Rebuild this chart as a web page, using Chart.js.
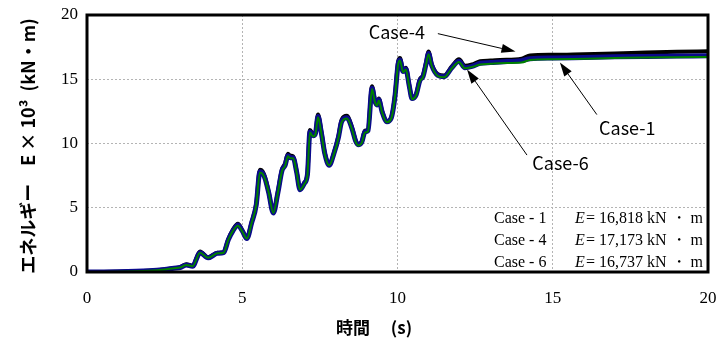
<!DOCTYPE html>
<html>
<head>
<meta charset="utf-8">
<script src="https://cdn.jsdelivr.net/npm/chart.js@4/dist/chart.umd.min.js"></script>
<style>
  html, body { margin: 0; padding: 0; background: #fff; }
  #wrap { width: 719px; height: 343px; }
</style>
</head>
<body>
<div id="wrap"><canvas id="energy"></canvas></div>
<script>
"use strict";

// time (s)
const timeS = [0, 1, 2, 2.5, 2.8, 3.0, 3.2, 3.4, 3.64, 3.9, 4.2, 4.4, 4.55, 4.7, 4.86, 5.0, 5.15, 5.3, 5.45, 5.57,
  5.65, 5.73, 5.85, 6.0, 6.15, 6.28, 6.38, 6.47, 6.55, 6.64, 6.75, 6.86, 7.0, 7.1, 7.18, 7.28, 7.36, 7.44, 7.55, 7.66,
  7.8, 7.95, 8.1, 8.2, 8.37, 8.53, 8.65, 8.73, 8.85, 8.95, 9.05, 9.18, 9.27, 9.34, 9.4, 9.5, 9.66, 9.8, 9.92, 10.02,
  10.08, 10.18, 10.27, 10.37, 10.47, 10.6, 10.72, 10.82, 10.92, 11.0, 11.1, 11.3, 11.5, 11.75, 11.98, 12.17, 12.4, 12.66, 13.0, 13.3,
  14.0, 14.27, 15, 16, 17, 18, 19, 20];

// energy E x 10^3 (kN・m)
const case1 = [0, 0.02, 0.1, 0.2, 0.3, 0.35, 0.55, 0.45, 1.5, 1.1, 1.45, 1.5, 2.5, 3.2, 3.65, 3.2, 2.6, 3.8, 5.2, 7.8,
  7.7, 7.3, 6.2, 4.6, 6.2, 7.9, 8.3, 9.05, 8.9, 8.9, 7.8, 6.4, 6.9, 7.6, 10.9, 10.6, 10.8, 12.1, 10.8, 9.2,
  8.3, 9.2, 10.5, 11.7, 12.0, 11.2, 10.2, 9.9, 10.1, 10.9, 11.0, 14.3, 13.3, 13.0, 13.4, 12.5, 11.7, 12.0, 13.7, 16.2,
  16.5, 15.6, 15.8, 14.6, 13.5, 13.8, 14.9, 15.2, 16.2, 17.0, 16.1, 15.3, 15.2, 15.9, 16.4, 15.9, 16.0, 16.25, 16.3, 16.35,
  16.45, 16.6, 16.65, 16.7, 16.75, 16.78, 16.8, 16.82];

const case4 = [0, 0.02, 0.1, 0.2, 0.3, 0.38, 0.6, 0.5, 1.6, 1.15, 1.5, 1.55, 2.55, 3.3, 3.75, 3.25, 2.65, 3.85, 5.3, 7.95,
  7.85, 7.4, 6.25, 4.65, 6.3, 8.0, 8.45, 9.2, 9.05, 9.0, 7.85, 6.45, 6.95, 7.7, 11.05, 10.75, 10.9, 12.25, 10.9, 9.25,
  8.35, 9.25, 10.6, 11.85, 12.15, 11.3, 10.25, 9.95, 10.15, 11.0, 11.1, 14.45, 13.4, 13.1, 13.5, 12.55, 11.75, 12.05, 13.8, 16.35,
  16.65, 15.7, 15.9, 14.65, 13.55, 13.85, 15.0, 15.3, 16.3, 17.15, 16.2, 15.4, 15.3, 16.0, 16.55, 16.05, 16.15, 16.4, 16.45, 16.5,
  16.6, 16.85, 16.9, 16.95, 17.0, 17.08, 17.14, 17.17];

const case6 = [0, 0.02, 0.1, 0.2, 0.3, 0.35, 0.55, 0.45, 1.5, 1.1, 1.45, 1.5, 2.5, 3.2, 3.6, 3.15, 2.6, 3.8, 5.2, 7.75,
  7.65, 7.25, 6.2, 4.6, 6.2, 7.85, 8.25, 9.0, 8.85, 8.85, 7.75, 6.4, 6.85, 7.55, 10.85, 10.55, 10.75, 12.05, 10.75, 9.15,
  8.3, 9.15, 10.45, 11.65, 11.95, 11.15, 10.15, 9.85, 10.05, 10.85, 10.95, 14.25, 13.25, 12.95, 13.35, 12.45, 11.65, 11.95, 13.65, 16.15,
  16.45, 15.55, 15.75, 14.55, 13.45, 13.75, 14.85, 15.15, 16.15, 16.95, 16.05, 15.25, 15.15, 15.85, 16.35, 15.85, 15.95, 16.15, 16.2, 16.25,
  16.3, 16.5, 16.55, 16.6, 16.65, 16.7, 16.72, 16.74];

const xTicks = [0, 5, 10, 15, 20];
const yTicks = [0, 5, 10, 15, 20];

// legend box rows
const caseNames = ['Case - 1', 'Case - 4', 'Case - 6'];
const caseEnergy = ['16,818', '17,173', '16,737'];

// callouts: label, label position, arrow start, arrow tip (data units)
const callouts = [
  { text: 'Case-4', at: [9.98, 18.68], from: [11.3, 18.55], to: [13.8, 17.15] },
  { text: 'Case-1', at: [17.4, 11.2], from: [16.42, 12.25], to: [15.23, 16.3] },
  { text: 'Case-6', at: [15.25, 8.5], from: [14.17, 9.1], to: [12.24, 15.75] }
];

const pts = arr => timeS.map((t, i) => ({ x: t, y: arr[i] }));

const serif = '"Liberation Serif", "Times New Roman", serif';
const gothic = '"Noto Sans CJK JP", sans-serif';

const overlay = {
  id: 'overlay',
  afterDraw(chart) {
    const c = chart.ctx, a = chart.chartArea;
    const sx = chart.scales.x, sy = chart.scales.y;
    c.save();

    // frame
    c.strokeStyle = '#000';
    c.lineWidth = 3;
    c.strokeRect(a.left, a.top, a.right - a.left, a.bottom - a.top);

    // callouts
    c.fillStyle = '#000';
    c.lineWidth = 1;
    c.font = '18px ' + gothic;
    c.textAlign = 'center';
    c.textBaseline = 'middle';
    callouts.forEach(o => {
      c.fillText(o.text, sx.getPixelForValue(o.at[0]), sy.getPixelForValue(o.at[1]));
      const x1 = sx.getPixelForValue(o.from[0]), y1 = sy.getPixelForValue(o.from[1]);
      const x2 = sx.getPixelForValue(o.to[0]), y2 = sy.getPixelForValue(o.to[1]);
      const ang = Math.atan2(y2 - y1, x2 - x1);
      const hl = 14, hw = 4.5;
      c.beginPath();
      c.moveTo(x1, y1);
      c.lineTo(x2 - hl * Math.cos(ang), y2 - hl * Math.sin(ang));
      c.stroke();
      c.beginPath();
      c.moveTo(x2, y2);
      c.lineTo(x2 - hl * Math.cos(ang) + hw * Math.sin(ang), y2 - hl * Math.sin(ang) - hw * Math.cos(ang));
      c.lineTo(x2 - hl * Math.cos(ang) - hw * Math.sin(ang), y2 - hl * Math.sin(ang) + hw * Math.cos(ang));
      c.closePath();
      c.fill();
    });

    // result table
    c.textAlign = 'left';
    c.textBaseline = 'alphabetic';
    caseNames.forEach((name, i) => {
      const y = 223 + i * 22;
      c.font = '16px ' + serif;
      c.fillText(name, 494, y);
      c.font = 'italic 16px ' + serif;
      c.fillText('E', 575, y);
      c.font = '16px ' + serif;
      c.fillText('= ' + caseEnergy[i] + ' kN ・ m', 586, y);
    });

    // axis titles
    c.font = 'bold 17px ' + gothic;
    c.textAlign = 'center';
    c.textBaseline = 'middle';
    c.fillText('時間　 (s)', 374, 328);

    c.font = 'bold 18px ' + gothic;
    c.translate(28, 146);
    c.rotate(-Math.PI / 2);
    c.fillText('エネルギー　E × 10³  (kN・m)', 0, 0);
    c.restore();
  }
};

const gridColor = ctx => (ctx.tick.value === 0 || ctx.tick.value === 20) ? 'rgba(0,0,0,0)' : '#b4b4b4';

new Chart(document.getElementById('energy'), {
  type: 'line',
  data: {
    datasets: [
      { label: 'Case-6', data: pts(case6), borderColor: '#008000', borderWidth: 2, order: 0 },
      { label: 'Case-1', data: pts(case1), borderColor: '#0a0a8c', borderWidth: 5, order: 1 },
      { label: 'Case-4', data: pts(case4), borderColor: '#000000', borderWidth: 4, order: 2 }
    ]
  },
  options: {
    responsive: true,
    maintainAspectRatio: false,
    animation: false,
    events: [],
    elements: {
      point: { radius: 0 },
      line: { tension: 0.35, cubicInterpolationMode: 'monotone', fill: false }
    },
    layout: { padding: { left: 0, top: 15, right: 11, bottom: 0 } },
    plugins: { legend: { display: false }, tooltip: { enabled: false } },
    scales: {
      x: {
        type: 'linear', min: 0, max: 20,
        afterBuildTicks: s => { s.ticks = xTicks.map(v => ({ value: v })); },
        afterFit: s => { s.height = 71; s.paddingLeft = 0; s.paddingRight = 0; },
        grid: { drawTicks: false, color: gridColor, lineWidth: 1 },
        border: { display: false, dash: [2, 2] },
        ticks: { padding: 16, color: '#000', font: { family: serif, size: 17 } }
      },
      y: {
        min: 0, max: 20,
        afterBuildTicks: s => { s.ticks = yTicks.map(v => ({ value: v })); },
        afterFit: s => { s.width = 87; s.paddingTop = 0; s.paddingBottom = 0; },
        grid: { drawTicks: false, color: gridColor, lineWidth: 1 },
        border: { display: false, dash: [2, 2] },
        ticks: { padding: 9, color: '#000', font: { family: serif, size: 17 } }
      }
    }
  },
  plugins: [overlay]
});
</script>
</body>
</html>
